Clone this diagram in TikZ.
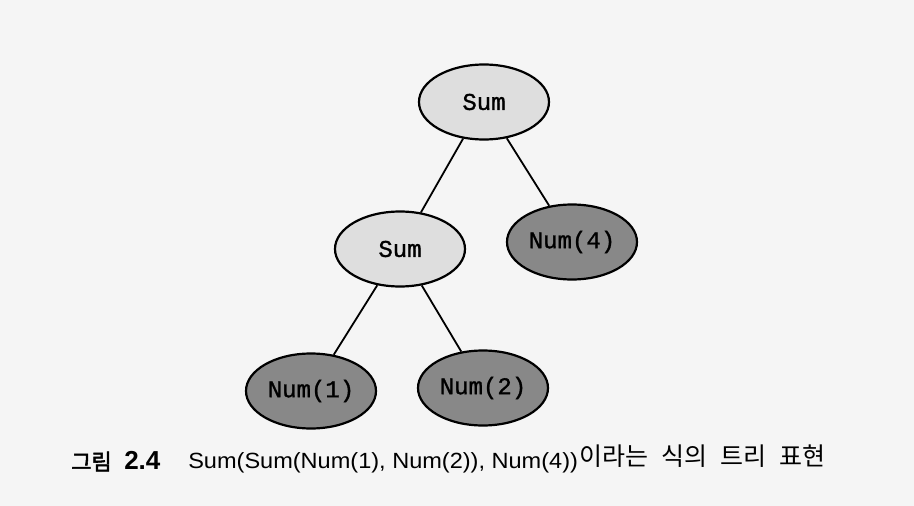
\documentclass[tikz,border=0pt]{standalone}
\usepackage{fontspec}
\setmainfont{Liberation Sans}
\newfontfamily\codefont{Liberation Mono}[FakeBold=1.2]
\newfontfamily\krfont{Noto Sans CJK KR}
\newfontfamily\krbold{Noto Sans CJK KR}[FakeBold=2.5]
\newfontfamily\latinsans{Liberation Sans}
\usetikzlibrary{shapes.geometric}
\definecolor{pagebg}{RGB}{245,245,245}
\definecolor{lightfill}{RGB}{222,222,222}
\definecolor{darkfill}{RGB}{136,136,136}
\begin{document}
\begin{tikzpicture}[x=1pt,y=-1pt,
  treenode/.style={ellipse,draw=black,line width=2.2pt,inner sep=0pt,
    minimum width=130pt,minimum height=75pt,
    font=\codefont\fontsize{24}{24}\selectfont},
  sumnode/.style={treenode,fill=lightfill},
  numnode/.style={treenode,fill=darkfill},
  edge/.style={line width=1.8pt,black},
  caption/.style={anchor=base west,inner sep=0pt}]
\fill[pagebg] (0,0) rectangle (914,506);
\useasboundingbox (0,0) rectangle (914,506);
\node[sumnode] (root) at (484,102) {Sum};
\node[sumnode] (inner) at (400,249) {Sum};
\node[numnode] (n4) at (572,242) {Num(4)};
\node[numnode] (n1) at (311,391) {Num(1)};
\node[numnode] (n2) at (483,388) {Num(2)};
\draw[edge] (root) -- (inner);
\draw[edge] (root) -- (n4);
\draw[edge] (inner) -- (n1);
\draw[edge] (inner) -- (n2);
\begin{scope}[rotate around={0.65:(500,462)}]
\node[caption,font=\krbold\fontsize{22}{22}\selectfont] (figko) at (71,465) {그림};
\node[caption,font=\latinsans\bfseries\fontsize{26}{26}\selectfont] (fignum) at (124,465) {2.4};
\node[caption,font=\latinsans\fontsize{22}{22}\selectfont] (expr) at (188,465) {\scalebox{1.07}[1]{Sum(Sum(Num(1), Num(2)), Num(4))}};
\node[caption,font=\krfont\fontsize{25}{25}\selectfont] (desc) at (579,466) {이라는\hspace{13pt}식의\hspace{13pt}트리\hspace{13pt}표현};
\end{scope}
\end{tikzpicture}
\end{document}
